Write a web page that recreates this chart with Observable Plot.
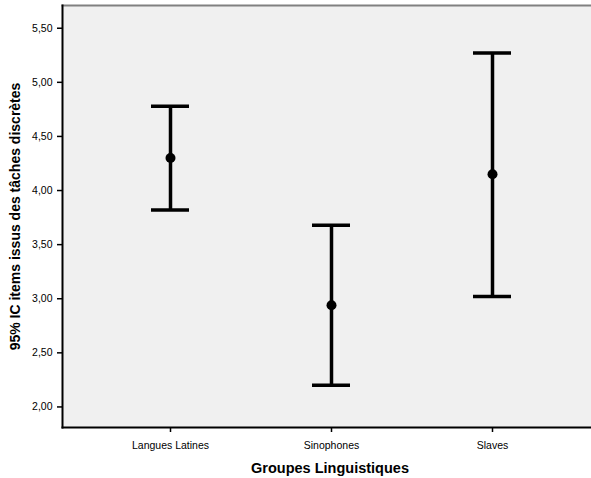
<!DOCTYPE html>
<html>
<head>
<meta charset="utf-8">
<script src="https://cdn.jsdelivr.net/npm/d3@7"></script>
<script src="https://cdn.jsdelivr.net/npm/@observablehq/plot@0.6"></script>
<style>
  html, body { margin: 0; padding: 0; background: #fff; }
  #chart svg { display: block; font-family: "Liberation Sans", Arial, sans-serif; }
</style>
</head>
<body>
<div id="chart"></div>
<script>
// Groups and their 95% confidence intervals
const groups = ["Langues Latines", "Sinophones", "Slaves"];
const means = [4.30, 2.94, 4.15];
const lower = [3.82, 2.20, 3.02];
const upper = [4.78, 3.68, 5.27];
const yTicks = [2.0, 2.5, 3.0, 3.5, 4.0, 4.5, 5.0, 5.5];
const xTitle = "Groupes Linguistiques";
const yTitle = "95% IC items issus des tâches discrètes";

const data = groups.map((g, i) => ({group: g, mean: means[i], lo: lower[i], hi: upper[i]}));
const fmt = d => d.toFixed(2).replace(".", ",");

const chart = Plot.plot({
  width: 591,
  height: 478,
  marginLeft: 62,
  marginRight: 0,
  marginTop: 5,
  marginBottom: 51,
  style: {background: "#fff", color: "#000", fontFamily: "'Liberation Sans', Arial, sans-serif"},
  x: {type: "band", domain: groups, paddingInner: 0.764, paddingOuter: 0.523, align: 0.524, label: null},
  y: {domain: [1.81, 5.71], label: null},
  marks: [
    Plot.frame({fill: "#f0f0f0", stroke: "none"}),
    Plot.frame({anchor: "top", stroke: "#808080", strokeWidth: 2}),
    Plot.frame({anchor: "left", stroke: "#000", strokeWidth: 2}),
    Plot.frame({anchor: "bottom", stroke: "#000", strokeWidth: 2}),
    Plot.axisY({ticks: yTicks, tickFormat: fmt, tickSize: 5, tickPadding: 5, fontSize: 10.5, label: null, strokeWidth: 1.5}),
    Plot.axisX({tickSize: 5, tickPadding: 9, fontSize: 10.5, label: null, strokeWidth: 1.5}),
    Plot.ruleX(data, {x: "group", y1: "lo", y2: "hi", stroke: "#000", strokeWidth: 3.5}),
    Plot.tickY(data, {x: "group", y: "lo", stroke: "#000", strokeWidth: 3.5}),
    Plot.tickY(data, {x: "group", y: "hi", stroke: "#000", strokeWidth: 3.5}),
    Plot.dot(data, {x: "group", y: "mean", r: 5, fill: "#000", stroke: "none"}),
    Plot.text([xTitle], {frameAnchor: "bottom", dy: 41, dx: 3, text: d => d, fontSize: 14.5, fontWeight: "bold", textAnchor: "middle", lineAnchor: "middle", fill: "#000"}),
    Plot.text([yTitle], {frameAnchor: "left", dx: -47, rotate: -90, text: d => d, fontSize: 14, fontWeight: "bold", textAnchor: "middle", lineAnchor: "middle", fill: "#000"})
  ]
});
document.getElementById("chart").appendChild(chart);
</script>
</body>
</html>
